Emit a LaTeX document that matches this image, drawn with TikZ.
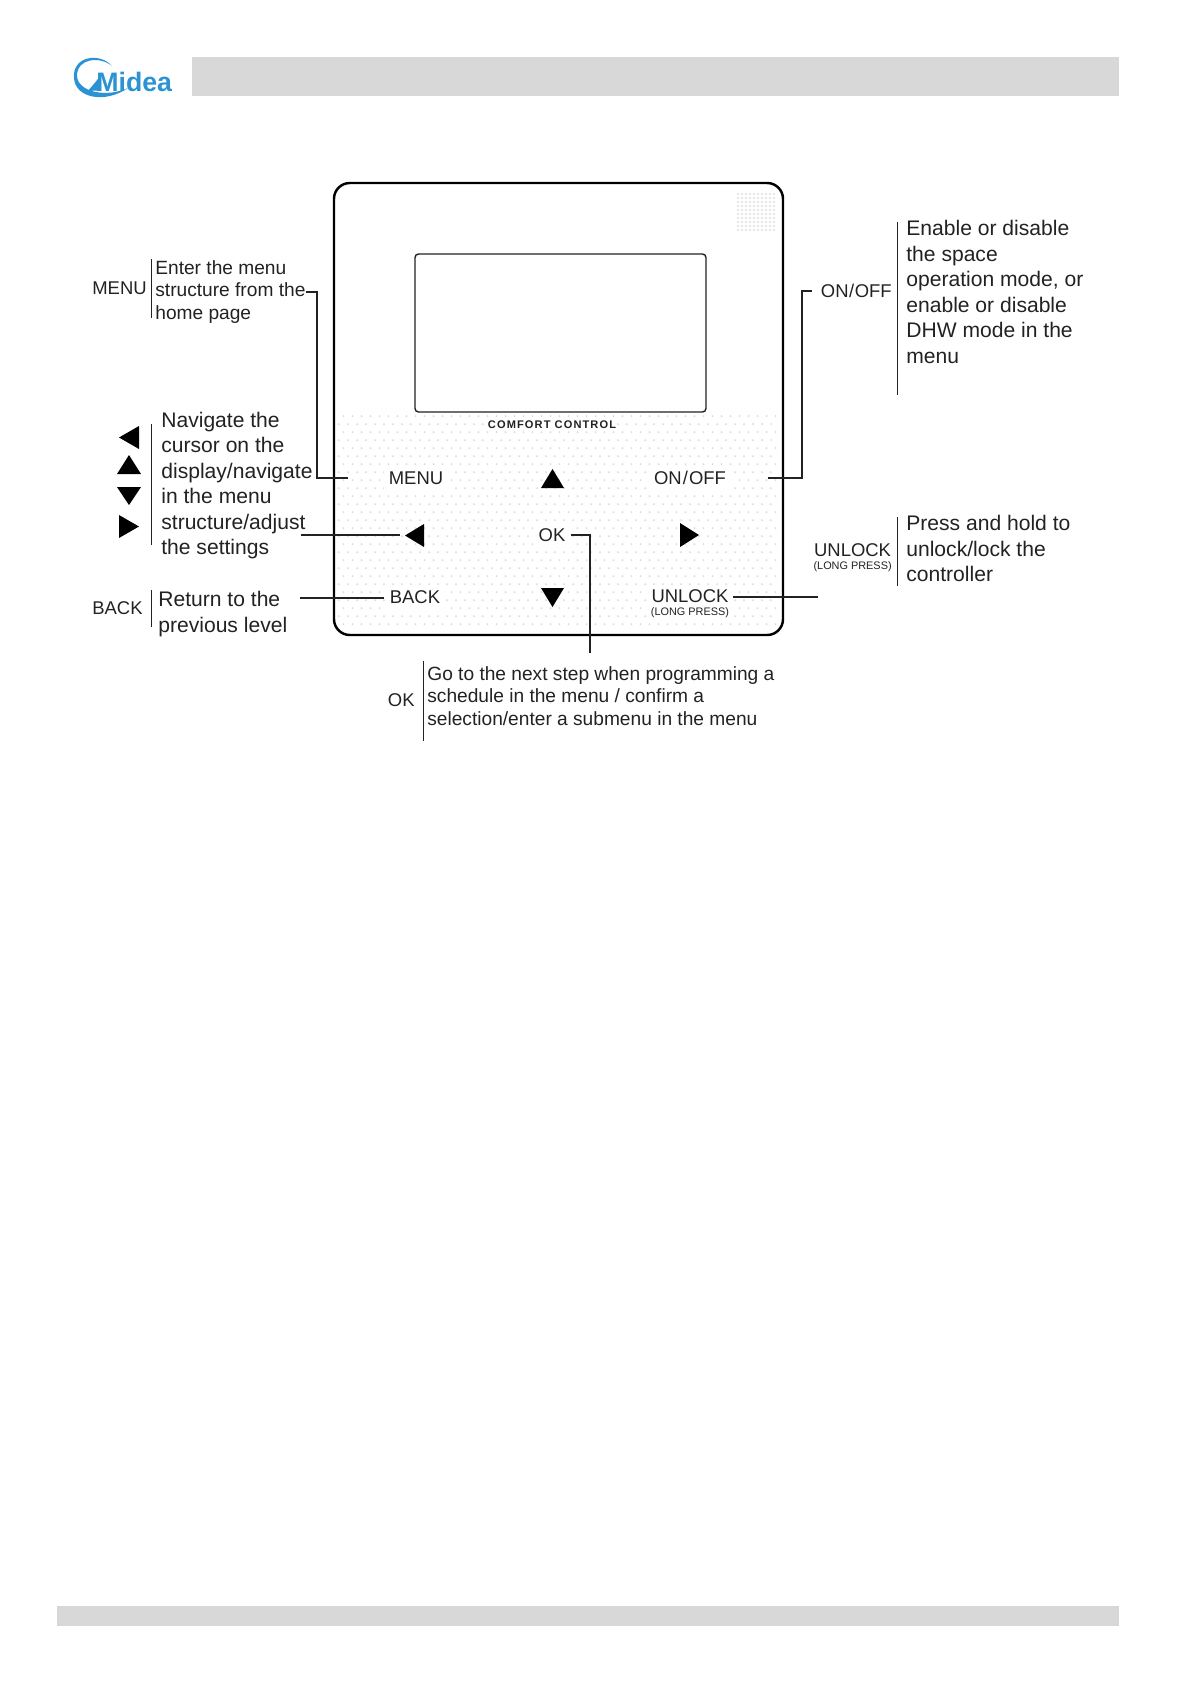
\documentclass[tikz,border=0pt]{standalone}
\usepackage{fontspec}
\setmainfont{Liberation Sans}
\newfontfamily\panelfont[LetterSpace=10]{Liberation Sans}
\usetikzlibrary{arrows.meta, positioning, calc}
\definecolor{barcol}{HTML}{D8D8D8}
\definecolor{logocol}{HTML}{2B93D3}
\definecolor{inkcol}{HTML}{222222}
\definecolor{dotcol}{HTML}{D8D8D8}

\begin{document}
\begin{tikzpicture}[
  x=0.02cm, y=-0.02cm,
  txtbig/.style={inner sep=0pt, anchor=west, align=left, text=inkcol,
                 font=\fontsize{12}{14.5}\selectfont},
  txtsmall/.style={inner sep=0pt, anchor=west, align=left, text=inkcol,
                 font=\fontsize{10.9}{13}\selectfont},
  keylabel/.style={inner sep=0pt, text=inkcol, font=\fontsize{10.5}{12}\selectfont},
  keyblank/.style={keylabel, fill=white, inner sep=3pt},
  rule/.style={draw=inkcol, line width=0.5pt},
  conn/.style={draw=inkcol, line width=0.6pt},
  tri/.style={fill=black, draw=none}
]
\useasboundingbox (0,0) rectangle (1191,1684);

% header and footer
\fill[barcol] (192,57) rectangle (1119,96);
\fill[barcol] (57,1606) rectangle (1119,1626);

% logo
\fill[logocol] (112,66) .. controls (100,52) and (72,56) .. (74,78)
  .. controls (75,98) and (105,104) .. (128,88)
  .. controls (106,98) and (78,92) .. (77,76)
  .. controls (77,58) and (100,56) .. (112,66) -- cycle;
\node[inner sep=0pt, anchor=base west, text=logocol,
      font=\fontsize{15.2}{15}\selectfont\bfseries] (logo) at (96,91) {Midea};
\fill[logocol] (99,91) .. controls (95,90) and (90,91) .. (87,92)
  .. controls (92,86) and (96,82) .. (100,76) -- cycle;

% device
\foreach \sx in {738,742,...,774} {
  \foreach \sy in {194,198,...,230} {
    \fill[dotcol!70] (\sx,\sy) circle (1.3);
  }
}
\foreach \py [count=\row] in {416,424,...,630} {
  \pgfmathsetmacro{\shiftx}{mod(\row,2)*4.5}
  \foreach \px in {339,348,...,775} {
    \fill[dotcol] (\px+\shiftx,\py) circle (1);
  }
}
\draw[line width=1.4pt, rounded corners=9pt] (334,183) rectangle (783,635);
\draw[draw=inkcol, line width=0.8pt, fill=white, rounded corners=2pt] (415,254) rectangle (706,412);

\node[inner sep=0pt, fill=white, text=inkcol, font=\panelfont\fontsize{6.3}{7}\selectfont\bfseries] (brand) at (552,425) {COMFORT CONTROL};

% keys
\node[keyblank] (menukey)   at (416,478) {MENU};
\node[keyblank] (onoffkey)  at (690,478) {ON\kern.6pt/\kern.6pt OFF};
\node[keyblank] (okkey)     at (552,535) {OK};
\node[keyblank] (backkey)   at (415,597) {BACK};
\node[keyblank, align=center, inner sep=1pt] (unlockkey) at (690,604)
  {UNLOCK\\[-4.5pt]{\fontsize{6.2}{7}\selectfont (LONG PRESS)}};

\fill[tri] (541,488) -- (552.5,469) -- (564,488) -- cycle;
\fill[tri] (541,588) -- (552.5,607) -- (564,588) -- cycle;
\fill[tri] (424,524) -- (405,535.5) -- (424,547) -- cycle;
\fill[tri] (680,523) -- (699,535) -- (680,547) -- cycle;
\coordinate (leftkey) at (400,535);

% left column
\node[keylabel, anchor=west] (menulabel) at (92,288) {MENU};
\draw[rule] (151,259) -- (151,318);
\node[txtsmall] (menutext) at (155,292) {Enter the menu\\structure from the\\home page};

\fill[tri] (139,426) -- (119,437.5) -- (139,449) -- cycle;
\fill[tri] (117,474) -- (129,455) -- (141,474) -- cycle;
\fill[tri] (117,487) -- (129,505) -- (141,487) -- cycle;
\fill[tri] (119,515) -- (139,526.5) -- (119,538) -- cycle;
\draw[rule] (151,424) -- (151,545);
\node[txtbig] (navtext) at (161,485.5) {Navigate the\\cursor on the\\display/navigate\\in the menu\\structure/adjust\\the settings};

\node[keylabel, anchor=west] (backlabel) at (92,608) {BACK};
\draw[rule] (151,590) -- (151,627);
\node[txtbig] (backtext) at (158,614) {Return to the\\previous level};

% right column
\node[keylabel, anchor=east] (onofflabel) at (892,291) {ON\kern.3pt/\kern.3pt OFF};
\draw[rule] (897,222) -- (897,395);
\node[txtbig] (onofftext) at (906,292) {Enable or disable\\the space\\operation mode, or\\enable or disable\\DHW mode in the\\menu};

\node[keylabel, anchor=east, align=center] (unlocklabel) at (892,558)
  {UNLOCK\\[-4.5pt]{\fontsize{6.2}{7}\selectfont (LONG PRESS)}};
\draw[rule] (897,517) -- (897,586);
\node[txtbig] (unlocktext) at (906,548.5) {Press and hold to\\unlock/lock the\\controller};

% bottom
\node[keylabel, anchor=east] (oklabel) at (415,700) {OK};
\draw[rule] (423,661) -- (423,741);
\node[txtsmall] (oktext) at (427,696) {Go to the next step when programming a\\schedule in the menu / confirm a\\selection/enter a submenu in the menu};

% connectors
\coordinate (menuend) at (348,478);
\coordinate (menuturn) at (317,292);
\coordinate (navstart) at (301,535);
\coordinate (backstart) at (300,598);
\coordinate (okend) at (590,653);
\coordinate (onoffend) at (768,478);
\coordinate (onoffturn) at (802,291);
\coordinate (unlockend) at (818,597);

\draw[conn] (306,292) -- (menuturn) |- (menuend);
\draw[conn] (navstart) -- (leftkey);
\draw[conn] (backstart) -- (backkey.west |- backstart);
\draw[conn] (571,535) -| (okend);
\draw[conn] (onoffend) -| (onoffturn) -- (812,291);
\draw[conn] (733,597) -- (unlockend);
\end{tikzpicture}
\end{document}
